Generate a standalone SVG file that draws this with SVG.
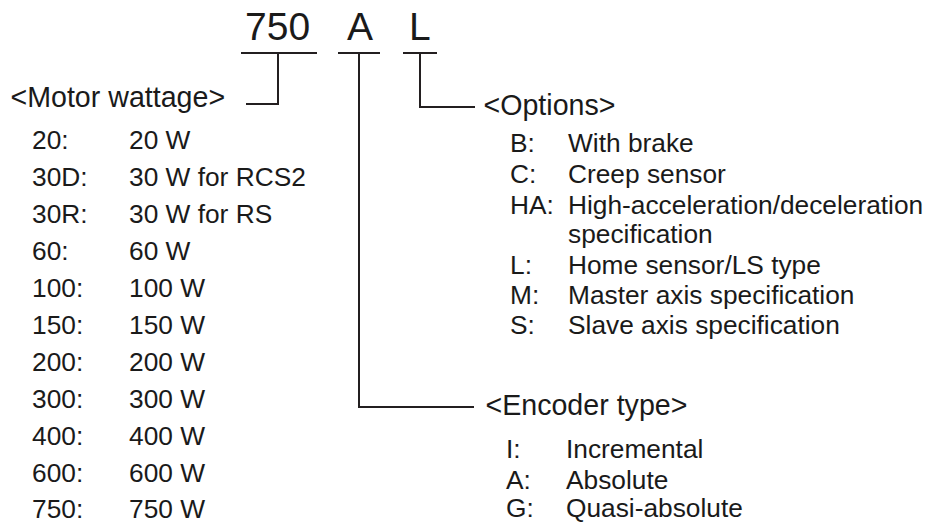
<svg xmlns="http://www.w3.org/2000/svg" width="933" height="523" viewBox="0 0 933 523">
<style>
text{font-family:"Liberation Sans",Arial,sans-serif;fill:#1a1a1a}
.big{font-size:39px}
.hd{font-size:28.6px}
.it{font-size:26.3px}
.ln{fill:none;stroke:#231f20;stroke-width:2}
</style>
<rect width="933" height="523" fill="#fff"/>
<g id="code">
<text class="big" x="245" y="40">750</text>
<text class="big" x="347" y="40">A</text>
<text class="big" x="409" y="40">L</text>
</g>
<g id="connectors">
<path class="ln" d="M241,53H317M338,53H380M403,53H437"/>
<path class="ln" d="M278,53V104H246"/>
<path class="ln" d="M359,53V407H474"/>
<path class="ln" d="M420,53V107H475"/>
</g>
<g id="motor">
<text class="hd" x="10.5" y="107">&lt;Motor wattage&gt;</text>
<text class="it" x="32" y="149">20:</text><text class="it" x="129" y="149">20 W</text>
<text class="it" x="32" y="186">30D:</text><text class="it" x="129" y="186">30 W for RCS2</text>
<text class="it" x="32" y="223">30R:</text><text class="it" x="129" y="223">30 W for RS</text>
<text class="it" x="32" y="260">60:</text><text class="it" x="129" y="260">60 W</text>
<text class="it" x="32" y="297">100:</text><text class="it" x="129" y="297">100 W</text>
<text class="it" x="32" y="334">150:</text><text class="it" x="129" y="334">150 W</text>
<text class="it" x="32" y="371">200:</text><text class="it" x="129" y="371">200 W</text>
<text class="it" x="32" y="408">300:</text><text class="it" x="129" y="408">300 W</text>
<text class="it" x="32" y="445">400:</text><text class="it" x="129" y="445">400 W</text>
<text class="it" x="32" y="482">600:</text><text class="it" x="129" y="482">600 W</text>
<text class="it" x="32" y="518">750:</text><text class="it" x="129" y="518">750 W</text>
</g>
<g id="options">
<text class="hd" x="483.5" y="115">&lt;Options&gt;</text>
<text class="it" x="510" y="152">B:</text><text class="it" x="568" y="152">With brake</text>
<text class="it" x="510" y="183">C:</text><text class="it" x="568" y="183">Creep sensor</text>
<text class="it" x="510" y="214">HA:</text><text class="it" x="568" y="214">High-acceleration/deceleration</text>
<text class="it" x="568" y="243">specification</text>
<text class="it" x="510" y="274">L:</text><text class="it" x="568" y="274">Home sensor/LS type</text>
<text class="it" x="510" y="304">M:</text><text class="it" x="568" y="304">Master axis specification</text>
<text class="it" x="510" y="334">S:</text><text class="it" x="568" y="334">Slave axis specification</text>
</g>
<g id="encoder">
<text class="hd" x="485.5" y="415">&lt;Encoder type&gt;</text>
<text class="it" x="506" y="458">I:</text><text class="it" x="566" y="458">Incremental</text>
<text class="it" x="506" y="489">A:</text><text class="it" x="566" y="489">Absolute</text>
<text class="it" x="506" y="517">G:</text><text class="it" x="566" y="517">Quasi-absolute</text>
</g>
</svg>
